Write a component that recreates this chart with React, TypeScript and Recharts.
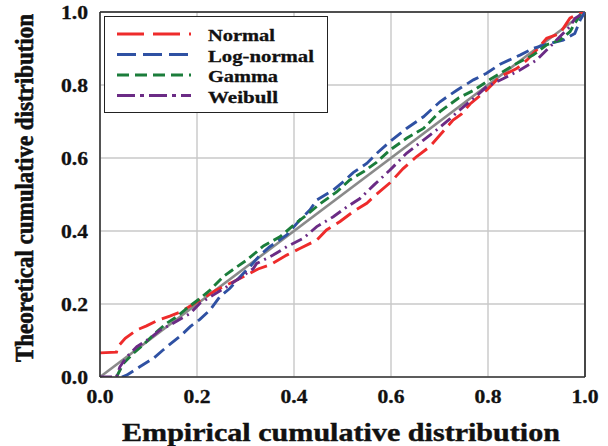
import React from 'react';
import { LineChart, Line, XAxis, YAxis, CartesianGrid, ReferenceLine, Legend } from 'recharts';

const ticks = [0, 0.2, 0.4, 0.6, 0.8, 1.0];

const normalX = [0, 0.034, 0.037, 0.052, 0.076, 0.096, 0.12, 0.144, 0.165, 0.182, 0.206, 0.24, 0.275, 0.302, 0.326, 0.35, 0.385, 0.412, 0.447, 0.467, 0.495, 0.522, 0.55, 0.567, 0.598, 0.625, 0.653, 0.68, 0.701, 0.728, 0.745, 0.763, 0.797, 0.825, 0.859, 0.88, 0.9, 0.921, 0.948, 0.969, 0.99, 1];
const normalY = [0.066, 0.068, 0.083, 0.106, 0.129, 0.14, 0.156, 0.167, 0.178, 0.191, 0.211, 0.238, 0.261, 0.279, 0.296, 0.307, 0.334, 0.352, 0.375, 0.403, 0.426, 0.453, 0.476, 0.497, 0.532, 0.571, 0.604, 0.631, 0.663, 0.704, 0.72, 0.748, 0.786, 0.823, 0.845, 0.868, 0.896, 0.928, 0.941, 0.983, 0.998, 1];

const lognormX = [0.045, 0.055, 0.082, 0.11, 0.13, 0.151, 0.168, 0.186, 0.206, 0.227, 0.247, 0.268, 0.289, 0.309, 0.33, 0.35, 0.385, 0.412, 0.433, 0.447, 0.481, 0.502, 0.522, 0.55, 0.57, 0.598, 0.632, 0.667, 0.701, 0.735, 0.77, 0.797, 0.825, 0.866, 0.893, 0.928, 0.955, 0.979, 0.99, 1];
const lognormY = [0, 0.005, 0.028, 0.051, 0.074, 0.097, 0.115, 0.138, 0.158, 0.184, 0.22, 0.243, 0.275, 0.302, 0.334, 0.357, 0.389, 0.43, 0.458, 0.485, 0.512, 0.535, 0.56, 0.585, 0.612, 0.645, 0.681, 0.713, 0.754, 0.785, 0.814, 0.832, 0.857, 0.882, 0.9, 0.914, 0.923, 0.941, 0.978, 1];

const gammaX = [0.034, 0.048, 0.069, 0.089, 0.117, 0.137, 0.158, 0.179, 0.206, 0.227, 0.254, 0.275, 0.302, 0.323, 0.337, 0.371, 0.399, 0.426, 0.454, 0.488, 0.515, 0.543, 0.57, 0.598, 0.632, 0.667, 0.701, 0.74, 0.77, 0.804, 0.825, 0.859, 0.893, 0.921, 0.948, 0.969, 0.979, 0.99, 1];
const gammaY = [0, 0.037, 0.065, 0.088, 0.124, 0.147, 0.165, 0.188, 0.215, 0.238, 0.275, 0.295, 0.32, 0.343, 0.359, 0.384, 0.416, 0.444, 0.475, 0.507, 0.54, 0.562, 0.588, 0.622, 0.654, 0.681, 0.727, 0.765, 0.785, 0.815, 0.832, 0.859, 0.882, 0.91, 0.923, 0.946, 0.969, 0.992, 1];

const weibullX = [0, 0.034, 0.041, 0.055, 0.076, 0.103, 0.124, 0.144, 0.165, 0.186, 0.206, 0.234, 0.261, 0.289, 0.316, 0.323, 0.357, 0.385, 0.419, 0.447, 0.481, 0.509, 0.536, 0.564, 0.598, 0.632, 0.667, 0.694, 0.722, 0.742, 0.77, 0.797, 0.832, 0.866, 0.9, 0.928, 0.948, 0.969, 0.979, 1];
const weibullY = [0, 0, 0.028, 0.055, 0.083, 0.106, 0.129, 0.142, 0.158, 0.174, 0.202, 0.225, 0.247, 0.272, 0.297, 0.311, 0.334, 0.357, 0.38, 0.412, 0.439, 0.466, 0.489, 0.525, 0.567, 0.613, 0.649, 0.677, 0.708, 0.732, 0.763, 0.795, 0.818, 0.841, 0.868, 0.905, 0.932, 0.96, 0.982, 1];

const toPoints = (xs: number[], ys: number[]) => xs.map((x, i) => ({ x, y: ys[i] }));

const series = [
  { name: 'Normal', data: toPoints(normalX, normalY), color: '#ee2b2b', dash: '18 7', legendDash: '27 9' },
  { name: 'Log-normal', data: toPoints(lognormX, lognormY), color: '#2f51a3', dash: '13 6', legendDash: '19 7' },
  { name: 'Gamma', data: toPoints(gammaX, gammaY), color: '#1b7d3b', dash: '10 5', legendDash: '12 6' },
  { name: 'Weibull', data: toPoints(weibullX, weibullY), color: '#6b2b85', dash: '12 5 2 5', legendDash: '18 5 4 5' },
];

const serif = 'Liberation Serif, Times New Roman, serif';

const XTick = (props: any) => (
  <text x={props.x} y={props.y + 26} textAnchor="middle" fontFamily={serif} fontWeight="bold" fontSize={19}
    fill="#111" stroke="#111" strokeWidth={0.3} textLength={27} lengthAdjust="spacingAndGlyphs">
    {Number(props.payload.value).toFixed(1)}
  </text>
);

const YTick = (props: any) => (
  <text x={props.x - 12} y={props.y + 6.5} textAnchor="end" fontFamily={serif} fontWeight="bold" fontSize={19}
    fill="#111" stroke="#111" strokeWidth={0.3} textLength={27} lengthAdjust="spacingAndGlyphs">
    {Number(props.payload.value).toFixed(1)}
  </text>
);

const XTitle = () => (
  <text x={341} y={441} textAnchor="middle" fontFamily={serif} fontWeight="bold" fontSize={25} fill="#111"
    stroke="#111" strokeWidth={0.4} textLength={438} lengthAdjust="spacingAndGlyphs">
    Empirical cumulative distribution
  </text>
);

const YTitle = () => (
  <text x={33} y={188} transform="rotate(-90 33 188)" textAnchor="middle" fontFamily={serif} fontWeight="bold"
    fontSize={25} fill="#111" stroke="#111" strokeWidth={0.6} textLength={348} lengthAdjust="spacingAndGlyphs">
    Theoretical cumulative distribution
  </text>
);

const LegendBox = () => (
  <div style={{ width: 222, height: 95, border: '1.5px solid #222', background: '#fff' }}>
    <svg width={222} height={95}>
      {series.map((s, i) => (
        <g key={s.name}>
          <line x1={12} x2={86} y1={17 + i * 20.5} y2={17 + i * 20.5} stroke={s.color} strokeWidth={2.8}
            strokeDasharray={s.legendDash} />
          <text x={103} y={24 + i * 20.5} fontFamily={serif} fontWeight="bold" fontSize={17} fill="#111"
            stroke="#111" strokeWidth={0.3} textLength={[67, 106, 70, 70][i]} lengthAdjust="spacingAndGlyphs">
            {s.name}
          </text>
        </g>
      ))}
    </svg>
  </div>
);

export default function App() {
  return (
    <div style={{ position: 'absolute', left: 0, top: 0, background: '#fff' }}>
      <LineChart width={608} height={446} margin={{ top: 12, right: 23, left: 0, bottom: 0 }}>
        <CartesianGrid stroke="#c8c8c8" strokeWidth={1.4} />
        <XAxis type="number" dataKey="x" domain={[0, 1]} ticks={ticks} height={69} tickSize={0} tickMargin={0}
          tick={<XTick />} axisLine={{ stroke: '#333', strokeWidth: 1.6 }} allowDataOverflow label={<XTitle />} />
        <YAxis type="number" dataKey="y" domain={[0, 1]} ticks={ticks} width={100} tickSize={0} tickMargin={0}
          tick={<YTick />} axisLine={{ stroke: '#333', strokeWidth: 1.6 }} allowDataOverflow label={<YTitle />} />
        <ReferenceLine y={1} stroke="#222" strokeWidth={1.6} />
        <ReferenceLine x={1} stroke="#222" strokeWidth={1.6} />
        <ReferenceLine segment={[{ x: 0, y: 0 }, { x: 1, y: 1 }]} stroke="#8a8a8a" strokeWidth={2.6} />
        {series.map((s) => (
          <Line key={s.name} data={s.data} dataKey="y" name={s.name} type="linear" stroke={s.color}
            strokeWidth={2.9} strokeDasharray={s.dash} dot={false} activeDot={false} isAnimationActive={false} />
        ))}
        <Legend layout="vertical" align="center" verticalAlign="middle" content={<LegendBox />}
          wrapperStyle={{ left: 104, top: 16, width: 225, height: 98 }} />
      </LineChart>
    </div>
  );
}
